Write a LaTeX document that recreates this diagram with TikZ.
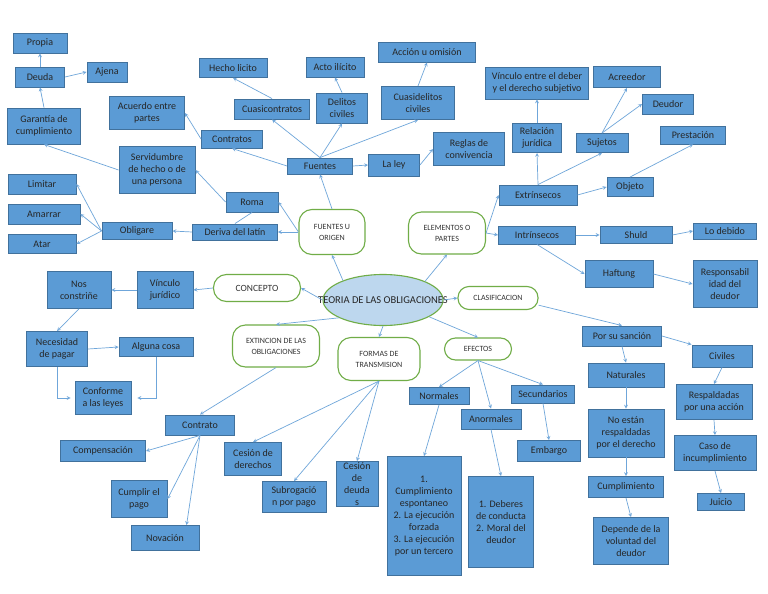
\documentclass[tikz,border=0pt]{standalone}
\usepackage{fontspec}
\setmainfont{Carlito}
\usepackage{tikz}
\usetikzlibrary{shapes.geometric}
\definecolor{cajaazul}{HTML}{5B9BD5}
\definecolor{bordeazul}{HTML}{41719C}
\definecolor{lineaazul}{HTML}{6FA6DA}
\definecolor{verde}{HTML}{70AD47}
\definecolor{celeste}{HTML}{BDD7EE}
\tikzset{>=stealth,
  caja/.style 2 args={draw=bordeazul, fill=cajaazul, line width=0.9pt, text=black!85,
    align=center, font=\fontsize{10}{12}\selectfont, inner sep=1pt,
    minimum width=#1, minimum height=#2},
  idea/.style 2 args={draw=verde, fill=white, line width=1.1pt, rounded corners=13pt,
    align=center, font=\fontsize{8}{11}\selectfont, text=black!80, inner sep=1pt,
    minimum width=#1, minimum height=#2},
  centro/.style={ellipse, draw=verde, fill=celeste, line width=1.1pt, inner sep=0pt,
    minimum width=120, minimum height=51, font=\fontsize{10.5}{12}\selectfont, text=black!85},
  flecha/.style={-stealth, color=lineaazul, line width=0.7pt}
}

\begin{document}
\begin{tikzpicture}[x=1pt,y=-1pt]
  \fill[white] (0,0) rectangle (768,594);
  \useasboundingbox (0,0) rectangle (768,594);

  % centro y temas
  \node[centro] (teoria) at (383,300) {\makebox[0pt]{TEORIA DE LAS OBLIGACIONES}};
  \node[idea={66}{45}] (origen) at (332,232) {FUENTES U\\ORIGEN};
  \node[idea={77}{42}] (elementos) at (447,233) {ELEMENTOS O\\PARTES};
  \node[idea={80}{23}, rounded corners=11pt] (clasif) at (498,298) {CLASIFICACION};
  \node[idea={87}{27}, rounded corners=13pt, font=\fontsize{9.5}{11}\selectfont] (concepto) at (257,288) {CONCEPTO};
  \node[idea={87}{42}] (extincion) at (276,346) {EXTINCION DE LAS\\OBLIGACIONES};
  \node[idea={82}{43}] (formas) at (379,359) {FORMAS DE\\TRANSMISION};
  \node[idea={67}{22}, rounded corners=11pt] (efectos) at (478,349) {EFECTOS};

  % fuentes u origen
  \node[caja={54}{20}] (propia) at (40,43) {Propia};
  \node[caja={49}{20}] (deuda) at (40,77) {Deuda};
  \node[caja={40}{20}] (ajena) at (107,72) {Ajena};
  \node[caja={73}{36}] (garantia) at (44,126) {Garantía de\\cumplimiento};
  \node[caja={75}{33}] (acuerdo) at (147,113) {Acuerdo entre\\partes};
  \node[caja={68}{19}] (hecho) at (233,68) {Hecho licito};
  \node[caja={61}{18}] (contratos) at (232,139) {Contratos};
  \node[caja={58}{20}] (acto) at (335,67) {Acto ilícito};
  \node[caja={97}{20}] (accion) at (427,52) {Acción u omisión};
  \node[caja={75}{20}] (cuasicontratos) at (272,109) {Cuasicontratos};
  \node[caja={51}{30}] (delitos) at (342,108) {Delitos\\civiles};
  \node[caja={73}{33}] (cuasidelitos) at (418,103) {Cuasidelitos\\civiles};
  \node[caja={65}{16}] (fuentes) at (320,166) {Fuentes};
  \node[caja={51}{22}] (ley) at (394,165) {La ley};
  \node[caja={71}{33}] (reglas) at (469,149) {Reglas de\\convivencia};
  \node[caja={76}{47}] (servidumbre) at (157,170) {Servidumbre\\de hecho o de\\una persona};
  \node[caja={68}{20}] (limitar) at (42,184) {Limitar};
  \node[caja={72}{20}] (amarrar) at (44,214) {Amarrar};
  \node[caja={68}{19}] (atar) at (42,244) {Atar};
  \node[caja={70}{17}] (obligare) at (137,231) {Obligare};
  \node[caja={52}{20}] (roma) at (252,202) {Roma};
  \node[caja={85}{16}] (deriva) at (235,232) {Deriva del latín};

  % elementos o partes
  \node[caja={103}{32}] (vinculo) at (537,83) {Vínculo entre el deber\\y el derecho subjetivo};
  \node[caja={67}{21}] (acreedor) at (627,77) {Acreedor};
  \node[caja={51}{20}] (deudor) at (668,104) {Deudor};
  \node[caja={49}{29}] (relacion) at (537,138) {Relación\\jurídica};
  \node[caja={52}{19}] (sujetos) at (602,143) {Sujetos};
  \node[caja={65}{18}] (prestacion) at (693,135) {Prestación};
  \node[caja={46}{19}] (objeto) at (630,187) {Objeto};
  \node[caja={78}{20}] (extrinsecos) at (538,195) {Extrínsecos};
  \node[caja={77}{18}] (intrinsecos) at (537,235) {Intrínsecos};
  \node[caja={72}{17}] (shuld) at (636,235) {Shuld};
  \node[caja={63}{16}] (debido) at (725,231) {Lo debido};
  \node[caja={68}{27}] (haftung) at (619,274) {Haftung};
  \node[caja={64}{47}] (responsab) at (725,284) {Responsabil\\idad del\\deudor};

  % concepto
  \node[caja={64}{37}] (nos) at (79,290) {Nos\\constriñe};
  \node[caja={56}{37}] (vinculoj) at (165,290) {Vínculo\\jurídico};
  \node[caja={61}{35}] (necesidad) at (57,349) {Necesidad\\de pagar};
  \node[caja={74}{19}] (alguna) at (156,347) {Alguna cosa};
  \node[caja={56}{33}] (conforme) at (103,398) {Conforme\\a las leyes};

  % extincion y formas
  \node[caja={69}{20}] (contrato) at (200,425) {Contrato};
  \node[caja={85}{21}] (compensacion) at (103,451) {Compensación};
  \node[caja={56}{37}] (cumplir) at (139,499) {Cumplir el\\pago};
  \node[caja={68}{25}] (novacion) at (165,538) {Novación};
  \node[caja={57}{33}] (cesionder) at (253,459) {Cesión de\\derechos};
  \node[caja={64}{31}] (subrog) at (294,497) {Subrogació\\n por pago};
  \node[caja={42}{44}] (cesiondeu) at (357,484) {Cesión\\de\\deuda\\s};

  % efectos
  \node[caja={60}{17}] (normales) at (439,396) {Normales};
  \node[caja={60}{20}] (anormales) at (491,419) {Anormales};
  \node[caja={63}{18}] (secundarios) at (543,394) {Secundarios};
  \node[caja={63}{21}] (embargo) at (549,451) {Embargo};
  \node[caja={74}{119}] (nbig) at (424,516) {1.\\Cumplimiento\\espontaneo\\2. La ejecución\\forzada\\3. La ejecución\\por un tercero};
  \node[caja={65}{91}] (abig) at (501,522) {1. Deberes\\de conducta\\2. Moral del\\deudor};

  % clasificacion
  \node[caja={79}{20}] (sancion) at (622,336) {Por su sanción};
  \node[caja={60}{22}] (civiles) at (722,356) {Civiles};
  \node[caja={76}{24}] (naturales) at (626,375) {Naturales};
  \node[caja={76}{35}] (respaldadas) at (714,402) {Respaldadas\\por una acción};
  \node[caja={76}{48}] (noestan) at (626,433) {No están\\respaldadas\\por el derecho};
  \node[caja={82}{35}] (caso) at (715,453) {Caso de\\incumplimiento};
  \node[caja={75}{21}] (cumplimiento) at (626,487) {Cumplimiento};
  \node[caja={47}{17}] (juicio) at (721,502) {Juicio};
  \node[caja={75}{47}] (depende) at (631,541) {Depende de la\\voluntad del\\deudor};

  \path[flecha]
    (teoria.154) edge (origen.south)
    (teoria.24) edge (elementos.south)
    (teoria.east) edge (clasif.west)
    (teoria.west) edge (concepto.east)
    (teoria.202) edge (extincion.north)
    (teoria.south) edge (formas.north)
    (teoria.-20) edge (efectos.north);
  \path[flecha]
    (origen.north) edge (fuentes.south)
    (origen.west) edge (roma.east)
                  edge (deriva.east)
    (deriva.west) edge (obligare.east)
    (obligare.west) edge (limitar.east)
                    edge (amarrar.east)
                    edge (atar.east)
    (roma.west) edge (servidumbre.east)
    (servidumbre.west) edge (garantia.south)
    (garantia.north) edge (deuda.south)
    (deuda.north) edge (propia.south)
    (deuda.east) edge (ajena.west)
    (fuentes.west) edge (contratos.south)
    (fuentes.north) edge (cuasicontratos.south)
                    edge (delitos.south)
                    edge (cuasidelitos.south)
    (fuentes.east) edge (ley.west)
    (ley.east) edge (reglas.west)
    (contratos.west) edge (acuerdo.east)
    (cuasicontratos.north) edge (hecho.south)
    (delitos.north) edge (acto.south)
    (cuasidelitos.north) edge (accion.south);
  \draw[color=lineaazul, line width=0.7pt] (roma.south) -- (deriva.north);
  \path[flecha]
    (elementos.east) edge (extrinsecos.west)
                     edge (intrinsecos.west)
    (extrinsecos.north) edge (relacion.south)
                        edge (sujetos.south)
    (extrinsecos.east) edge (objeto.west)
    (relacion.north) edge (vinculo.south)
    (sujetos.north) edge (acreedor.south)
                    edge (deudor.west)
    (objeto.north) edge (prestacion.south)
    (intrinsecos.east) edge (shuld.west)
    (intrinsecos.south) edge (haftung.west)
    (shuld.east) edge (debido.west)
    (haftung.east) edge (responsab.west);
  \path[flecha]
    (clasif.-10) edge (sancion.north)
    (sancion.south) edge (naturales.north)
    (sancion.east) edge (civiles.north west)
    (naturales.south) edge (noestan.north)
    (noestan.south) edge (cumplimiento.north)
    (cumplimiento.south) edge (depende.north)
    (civiles.south) edge (respaldadas.north)
    (respaldadas.south) edge (caso.north)
    (caso.south) edge (juicio.north);
  \path[flecha]
    (concepto.west) edge (vinculoj.east)
    (vinculoj.west) edge (nos.east)
    (nos.south) edge (necesidad.north)
    (necesidad.east) edge (alguna.west);
  \draw[flecha, shorten >=4pt] (necesidad.south) |- (conforme.west);
  \draw[flecha, shorten >=6pt] (alguna.south) |- (conforme.east);
  \path[flecha]
    (extincion.south) edge (contrato.north)
    (contrato.south) edge (compensacion.east)
                     edge (cumplir.east)
                     edge (novacion.31)
    (formas.south) edge (cesionder.north)
                   edge (subrog.north)
                   edge (cesiondeu.north)
    (efectos.south) edge (normales.north)
                    edge (anormales.north)
                    edge (secundarios.north)
    (normales.south) edge (nbig.north)
    (anormales.south) edge (abig.north)
    (secundarios.south) edge (embargo.north);
\end{tikzpicture}
\end{document}
